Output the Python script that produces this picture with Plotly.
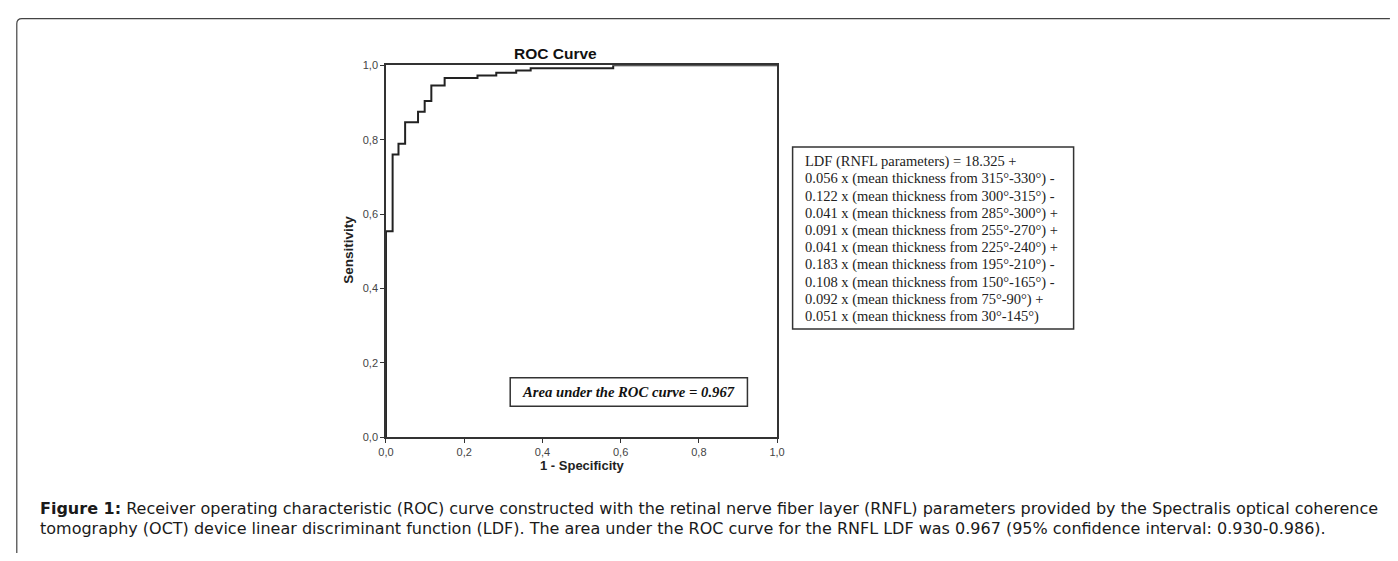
import plotly.graph_objects as go

# ---- data ----
fpr = [0.0, 0.0, 0.017, 0.032, 0.049, 0.082, 0.099, 0.116, 0.150, 0.234, 0.282, 0.333, 0.370, 0.581, 1.0]
tpr = [0.0, 0.554, 0.760, 0.789, 0.847, 0.875, 0.904, 0.946, 0.966, 0.973, 0.980, 0.986, 0.992, 1.0, 1.0]
tick_vals = [0.0, 0.2, 0.4, 0.6, 0.8, 1.0]
tick_text = ["0,0", "0,2", "0,4", "0,6", "0,8", "1,0"]
ldf_lines = [
    "LDF (RNFL parameters) = 18.325 +",
    "0.056 x (mean thickness from 315°-330°) -",
    "0.122 x (mean thickness from 300°-315°) -",
    "0.041 x (mean thickness from 285°-300°) +",
    "0.091 x (mean thickness from 255°-270°) +",
    "0.041 x (mean thickness from 225°-240°) +",
    "0.183 x (mean thickness from 195°-210°) -",
    "0.108 x (mean thickness from 150°-165°) -",
    "0.092 x (mean thickness from 75°-90°) +",
    "0.051 x (mean thickness from 30°-145°)",
]
auc_text = "Area under the ROC curve = 0.967"
caption_lines = [
    "<b>Figure 1:</b> Receiver operating characteristic (ROC) curve constructed with the retinal nerve fiber layer (RNFL) parameters provided by the Spectralis optical coherence",
    "tomography (OCT) device linear discriminant function (LDF). The area under the ROC curve for the RNFL LDF was 0.967 (95% confidence interval: 0.930-0.986).",
]

# page is 1398x561; the page body keeps its default 8px margin
OFF = 8
W, H = 1398 - 2 * OFF, 561 - 2 * OFF
def px(x):
    return (x - OFF) / W
def py(y):
    return 1 - (y - OFF) / H

fig = go.Figure()
fig.add_trace(go.Scatter(
    x=fpr, y=tpr, mode="lines", line=dict(color="#222222", width=2, shape="hv"),
    showlegend=False, hoverinfo="skip",
))

axis_common = dict(
    range=[0, 1], tickvals=tick_vals, ticktext=tick_text, ticks="outside", ticklen=4,
    tickcolor="#333333", tickwidth=1, showline=True, linecolor="#333333", linewidth=1.5,
    mirror=True, showgrid=False, zeroline=False,
    tickfont=dict(family="Liberation Sans, Arial", size=11, color="#444444"),
)
fig.update_xaxes(domain=[px(382.3), px(778)], **axis_common)
fig.update_yaxes(domain=[py(440.7), py(60.5)], **axis_common)

def A(text, x, y, size, family="Liberation Sans, Arial", color="#111", xanchor="center", **kw):
    return dict(text=text, x=px(x), y=py(y), xref="paper", yref="paper", showarrow=False,
                xanchor=xanchor, yanchor="middle", font=dict(family=family, size=size, color=color), **kw)

ann = []
ann.append(A("<b>ROC Curve</b>", 553.5, 48, 15.5))
ann.append(A("<b>Sensitivity</b>", 345, 249, 13.5, color="#222", textangle=-90))
ann.append(A("<b>1 - Specificity</b>", 581, 469.5, 13, color="#222"))
for i, line in enumerate(ldf_lines):
    ann.append(A(line, 804, 159 + i * 17.6, 14.5, family="Liberation Serif, Times New Roman",
                 color="#222", xanchor="left"))
ann.append(A("<b><i>" + auc_text + "</i></b>", 628, 394.5, 14.7, family="Liberation Serif, Times New Roman"))
for i, line in enumerate(caption_lines):
    ann.append(A(line, 30, 514 + i * 20.5, 16, family="DejaVu Sans", color="#1a1a1a", xanchor="left"))

shapes = [
    dict(type="rect", xref="paper", yref="paper", x0=px(793.7), x1=px(1078), y0=py(144), y1=py(330),
         line=dict(color="#333", width=1.5)),
    dict(type="rect", xref="paper", yref="paper", x0=px(508), x1=px(748), y0=py(380), y1=py(409),
         line=dict(color="#333", width=1.5)),
    dict(type="path", xref="paper", yref="paper",
         path=f"M {px(8.8)},{py(561)} L {px(8.8)},{py(18)} Q {px(8.8)},{py(12.7)} {px(14)},{py(12.7)} L {px(1398)},{py(12.7)}",
         line=dict(color="#444", width=1.2)),
]

fig.update_layout(
    width=W, height=H, margin=dict(l=0, r=0, t=0, b=0),
    paper_bgcolor="white", plot_bgcolor="white",
    annotations=ann, shapes=shapes, showlegend=False,
)

fig.write_html("out.html", config={"displayModeBar": False})
